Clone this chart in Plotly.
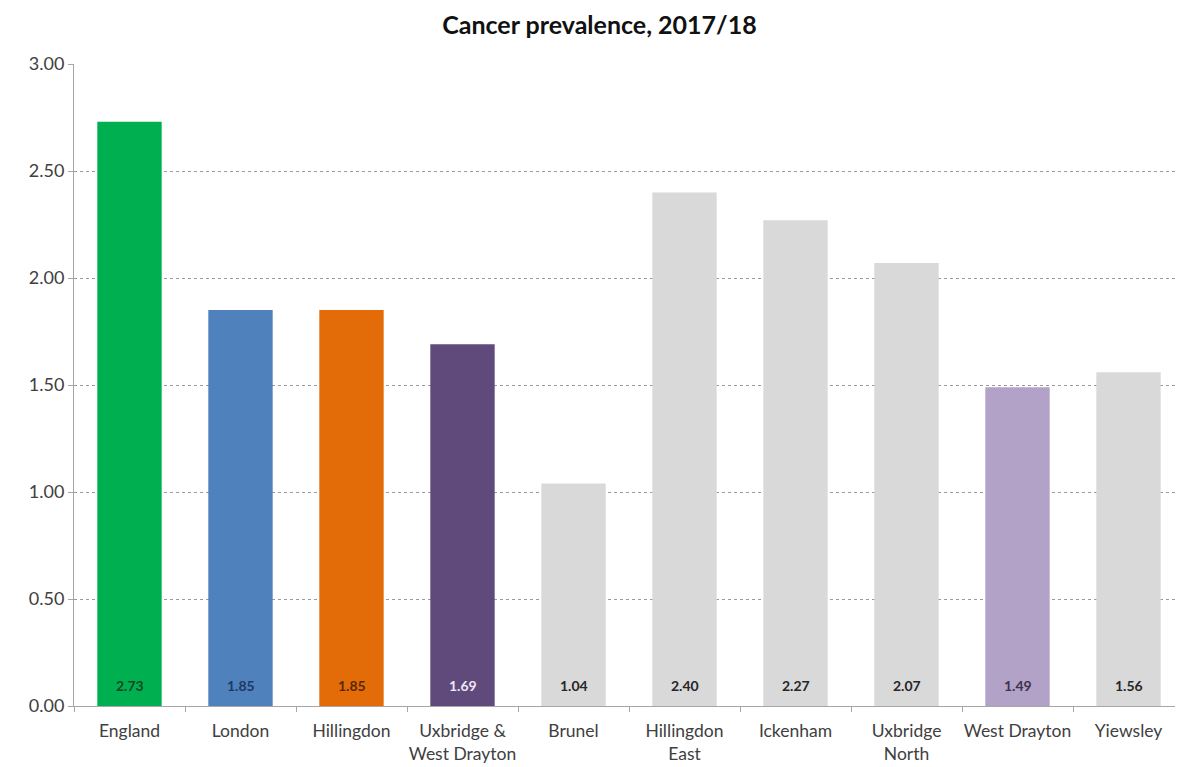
import plotly.graph_objects as go

# data
areas = ["England", "London", "Hillingdon", "Uxbridge &<br>West Drayton", "Brunel",
         "Hillingdon<br>East", "Ickenham", "Uxbridge<br>North", "West Drayton", "Yiewsley"]
prevalence = [2.73, 1.85, 1.85, 1.69, 1.04, 2.40, 2.27, 2.07, 1.49, 1.56]
bar_colors = ["#00B050", "#4F81BD", "#E36C09", "#604A7B", "#D9D9D9",
              "#D9D9D9", "#D9D9D9", "#D9D9D9", "#B3A2C7", "#D9D9D9"]
label_colors = ["#0E4A22", "#1F3864", "#5A2800", "#EDE7F3", "#262626",
                "#262626", "#262626", "#262626", "#3F3151", "#262626"]

FONT = "Lato, 'Open Sans', sans-serif"

fig = go.Figure(go.Bar(
    x=areas,
    y=prevalence,
    marker=dict(color=bar_colors, line=dict(width=0)),
    hovertemplate="%{x}: %{y:.2f}<extra></extra>",
))

# value labels sit at the foot of each bar
for a, v, c in zip(areas, prevalence, label_colors):
    fig.add_annotation(
        x=a, y=0, text=f"<b>{v:.2f}</b>", showarrow=False,
        yanchor="bottom", yshift=10,
        font=dict(size=14, family=FONT, color=c),
    )

# page body adds ~8px offset, so margins are trimmed to match
fig.update_layout(
    title=dict(text="<b>Cancer prevalence, 2017/18</b>", x=0.5, xanchor="center",
               yref="container", y=0.977, yanchor="middle",
               font=dict(size=25, color="#111111", family=FONT)),
    paper_bgcolor="white",
    plot_bgcolor="white",
    font=dict(family=FONT, color="#404040", size=17),
    bargap=0.42,
    showlegend=False,
    width=1183,
    height=767,
    margin=dict(l=66, r=7, t=56, b=69),
    xaxis=dict(
        showline=True, linecolor="#A6A6A6", linewidth=1,
        ticks="outside", tickson="boundaries", ticklen=5, tickcolor="#A6A6A6",
        tickfont=dict(size=17.5, color="#404040"), tickangle=0,
        ticklabelstandoff=9,
        showgrid=False, automargin=False,
    ),
    yaxis=dict(
        range=[0, 3.0], dtick=0.5, tickformat=".2f",
        showline=True, linecolor="#A6A6A6", linewidth=1,
        ticks="outside", ticklen=5, tickcolor="#A6A6A6",
        showgrid=True, gridcolor="#9A9A9A", griddash="3px,3px", gridwidth=1,
        tickfont=dict(size=18, color="#404040"),
        zeroline=False, automargin=False,
    ),
)

fig.write_html("out.html")
